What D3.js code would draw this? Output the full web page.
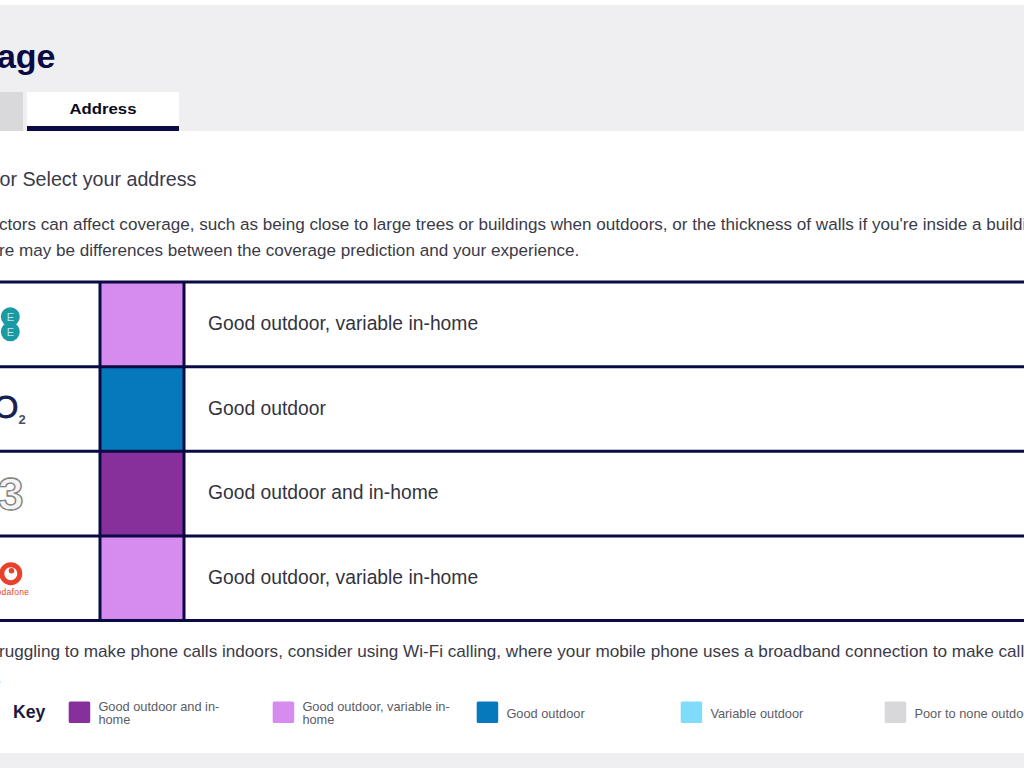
<!DOCTYPE html>
<html><head><meta charset="utf-8">
<script src="https://cdn.jsdelivr.net/npm/d3@7/dist/d3.min.js"></script>
<style>html,body{margin:0;padding:0;background:#fff;overflow:hidden}svg{display:block}text{font-family:"Liberation Sans",Arial,sans-serif}</style>
</head><body><svg id="c" width="1024" height="768"></svg>
<script>
const operators = ["EE","O2","3","Vodafone"];
const coverage = ["Good outdoor, variable in-home","Good outdoor","Good outdoor and in-home","Good outdoor, variable in-home"];
const keyLabels = ["Good outdoor and in-home","Good outdoor, variable in-home","Good outdoor","Variable outdoor","Poor to none outdoor"];
const keyLines = [["Good outdoor and in-","home"],["Good outdoor, variable in-","home"],["Good outdoor"],["Variable outdoor"],["Poor to none outdoor"]];
const keyColours = ["#872f9b","#d68bee","#0679bd","#80dcfb","#d8d8da"];

const NAVY = "#0a0a45";
const svg = d3.select("#c");
const colour = d3.scaleOrdinal().domain(keyLabels).range(keyColours);
const rowY = d3.scaleBand().domain(d3.range(operators.length)).range([282,620.5]);
const keyX = d3.scaleLinear().domain([0,4]).range([68.7,884.7]);

function rect(x,y,w,h,f){return svg.append("rect").attr("x",x).attr("y",y).attr("width",w).attr("height",h).attr("fill",f);}
function text(x,y,s,size,fill,weight){return svg.append("text").attr("x",x).attr("y",y).attr("font-size",size).attr("fill",fill).attr("font-weight",weight||400).text(s);}
function cropped(x,y,s,n,size,fill,weight){
  const t=text(0,y,s,size,fill,weight);
  t.attr("x",x-t.node().getSubStringLength(0,n));
  return t;
}

rect(0,5,1024,126,"#efeef1");
rect(0,753,1024,15,"#efeef1");

text(55.5,67.5,"Check your mobile coverage",34,NAVY,700).attr("text-anchor","end");
rect(0,92,23,39,"#d9d9db");
rect(27,92,152,39,"#fff");
rect(27,126,152,5,NAVY);
text(103,114,"Address",15,"#0a0a20",700).attr("text-anchor","middle").attr("textLength",67).attr("lengthAdjust","spacingAndGlyphs");

const s1="Enter your postcode or Select your address";
cropped(-0.5,186,s1,s1.indexOf("or Select"),19.7,"#3a3a48");
const s2="Many factors can affect coverage, such as being close to large trees or buildings when outdoors, or the thickness of walls if you're inside a building.";
cropped(-1,230,s2,s2.indexOf("ctors"),17.1,"#3a3a48");
const s3="So there may be differences between the coverage prediction and your experience.";
cropped(-1,256,s3,s3.indexOf("re may"),17.1,"#3a3a48");

const rows = svg.append("g").selectAll("g").data(operators).join("g");
rows.append("rect").attr("x",100).attr("width",84)
  .attr("y",(d,i)=>rowY(i)).attr("height",rowY.bandwidth())
  .attr("fill",(d,i)=>colour(coverage[i]));
rows.append("text").attr("x",208).attr("y",(d,i)=>rowY(i)+rowY.bandwidth()/2+5.8)
  .attr("font-size",19.3).attr("fill","#33333f").text((d,i)=>coverage[i]);
const lineG = svg.append("g").attr("stroke",NAVY).attr("stroke-width",3);
lineG.selectAll("line.h").data(d3.range(operators.length+1)).join("line").attr("class","h")
  .attr("x1",0).attr("x2",1024)
  .attr("y1",i=>rowY(0)+i*rowY.step()).attr("y2",i=>rowY(0)+i*rowY.step());
lineG.selectAll("line.v").data([100,184]).join("line").attr("class","v")
  .attr("x1",d=>d).attr("x2",d=>d).attr("y1",282).attr("y2",620.5);

const cy=i=>rowY(i)+rowY.bandwidth()/2;
const ee=svg.append("g");
[-7.5,7.5].forEach(o=>{
  ee.append("circle").attr("cx",10.3).attr("cy",cy(0)+o).attr("r",9.5).attr("fill","#1a9ba3");
  ee.append("text").attr("x",10.3).attr("y",cy(0)+o+4).attr("text-anchor","middle").attr("font-size",11).attr("fill","#bfe6e8").text("E");
});
text(-6.5,cy(1)+9,"O",32,"#14204f",400).attr("stroke","#14204f").attr("stroke-width",0.8);
text(18.5,cy(1)+15,"2",13,"#4a4f60",700);
text(-2,cy(2)+16.5,"3",46,"#f4f4f4",700).attr("stroke","#777").attr("stroke-width",1.3);
text(-2,cy(2)+16.5,"3",46,"none",700).attr("stroke","#999").attr("stroke-width",0.8).attr("stroke-dasharray","3 3");
svg.append("circle").attr("cx",10.8).attr("cy",cy(3)-4.5).attr("r",9).attr("fill","none").attr("stroke","#e8412c").attr("stroke-width",5);
svg.append("circle").attr("cx",11.5).attr("cy",cy(3)-7.5).attr("r",2.8).attr("fill","#e8412c");
text(-9,cy(3)+17,"Vodafone",8.5,"#e8412c").attr("textLength",38);

const s4="If you're struggling to make phone calls indoors, consider using Wi-Fi calling, where your mobile phone uses a broadband connection to make calls.";
cropped(-1,657,s4,s4.indexOf("ruggling"),17.15,"#3a3a48");
text(1.5,683,"instead.",17.1,"#3a3a48").attr("text-anchor","end");

text(13,718,"Key",17.7,"#1a1a40",700);
const key=svg.append("g").selectAll("g").data(keyLabels).join("g");
key.append("rect").attr("x",(d,i)=>keyX(i)).attr("y",701.5).attr("width",21.5).attr("height",21.5).attr("rx",1.5).attr("fill",d=>colour(d));
key.each(function(d,i){
  const lines=keyLines[i], g=d3.select(this);
  lines.forEach((l,j)=>g.append("text").attr("x",keyX(i)+29.7).attr("y",(lines.length>1?711+j*13:717.5)).attr("font-size",12.8).attr("fill","#5c5c66").text(l));
});
</script></body></html>
